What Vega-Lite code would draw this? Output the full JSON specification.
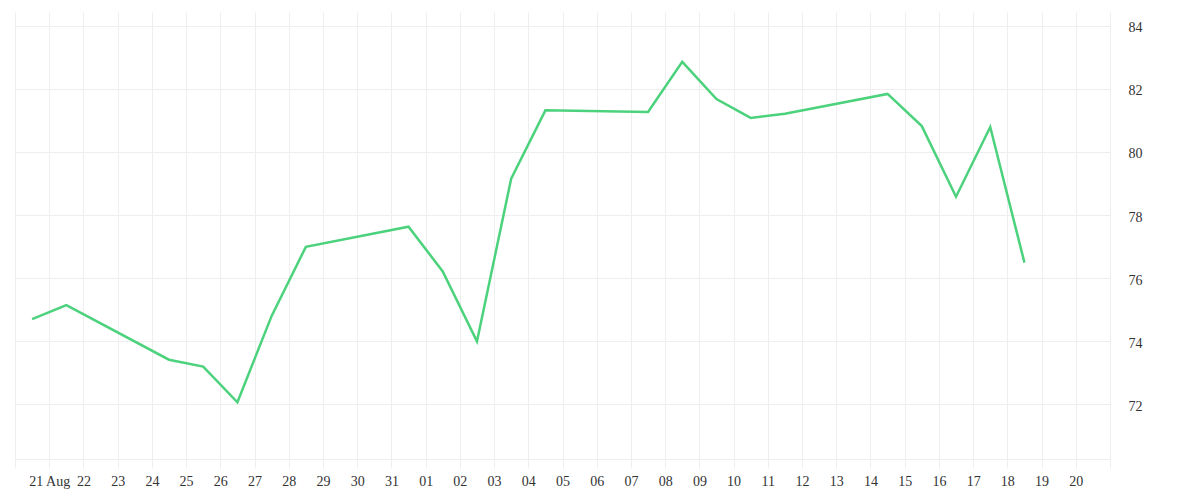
{
  "$schema": "https://vega.github.io/schema/vega-lite/v6.json",
  "description": "Daily closing value, 20 Aug - 18 Sep 2020.",
  "width": 1095,
  "height": 447,
  "autosize": {"type": "none"},
  "padding": {"left": 15, "top": 12, "right": 90, "bottom": 41},
  "background": "white",
  "config": {
    "view": {"stroke": null},
    "axis": {
      "labelFont": "Times New Roman, serif",
      "labelFontSize": 14,
      "labelColor": "#333333",
      "gridColor": "#eeeeee",
      "gridWidth": 1,
      "domainColor": "#eeeeee",
      "tickColor": "#eeeeee",
      "title": null
    }
  },
  "data": {
    "values": [
      {"date": "2020-08-20T12:00:00", "value": 74.70},
      {"date": "2020-08-21T12:00:00", "value": 75.14},
      {"date": "2020-08-24T12:00:00", "value": 73.41},
      {"date": "2020-08-25T12:00:00", "value": 73.19},
      {"date": "2020-08-26T12:00:00", "value": 72.06},
      {"date": "2020-08-27T12:00:00", "value": 74.80},
      {"date": "2020-08-28T12:00:00", "value": 76.99},
      {"date": "2020-08-31T12:00:00", "value": 77.63},
      {"date": "2020-09-01T12:00:00", "value": 76.21},
      {"date": "2020-09-02T12:00:00", "value": 73.99},
      {"date": "2020-09-03T12:00:00", "value": 79.15},
      {"date": "2020-09-04T12:00:00", "value": 81.32},
      {"date": "2020-09-07T12:00:00", "value": 81.27},
      {"date": "2020-09-08T12:00:00", "value": 82.86},
      {"date": "2020-09-09T12:00:00", "value": 81.68},
      {"date": "2020-09-10T12:00:00", "value": 81.08},
      {"date": "2020-09-11T12:00:00", "value": 81.21},
      {"date": "2020-09-14T12:00:00", "value": 81.84},
      {"date": "2020-09-15T12:00:00", "value": 80.82},
      {"date": "2020-09-16T12:00:00", "value": 78.58},
      {"date": "2020-09-17T12:00:00", "value": 80.79},
      {"date": "2020-09-18T12:00:00", "value": 76.49}
    ]
  },
  "mark": {"type": "line", "color": "#4cd27c", "strokeWidth": 2.5, "strokeJoin": "miter"},
  "encoding": {
    "x": {
      "field": "date",
      "type": "temporal",
      "scale": {
        "domain": [
          {"year": 2020, "month": 8, "date": 20},
          {"year": 2020, "month": 9, "date": 21}
        ],
        "nice": false
      },
      "axis": {
        "tickCount": {"interval": "day", "step": 1},
        "tickSize": 9,
        "labelPadding": 6,
        "labelOverlap": false,
        "labelFlush": false,
        "labelExpr": "(month(datum.value) == 7 && date(datum.value) == 20) || (month(datum.value) == 8 && date(datum.value) == 21) ? '' : (month(datum.value) == 7 && date(datum.value) == 21 ? '21 Aug' : timeFormat(datum.value, '%d'))"
      }
    },
    "y": {
      "field": "value",
      "type": "quantitative",
      "scale": {"domain": [70.26, 84.44], "nice": false, "zero": false},
      "axis": {
        "orient": "right",
        "values": [72, 74, 76, 78, 80, 82, 84],
        "ticks": false,
        "domain": false,
        "labelPadding": 18,
        "labelBaseline": "middle",
        "labelOffset": 2
      }
    }
  }
}
